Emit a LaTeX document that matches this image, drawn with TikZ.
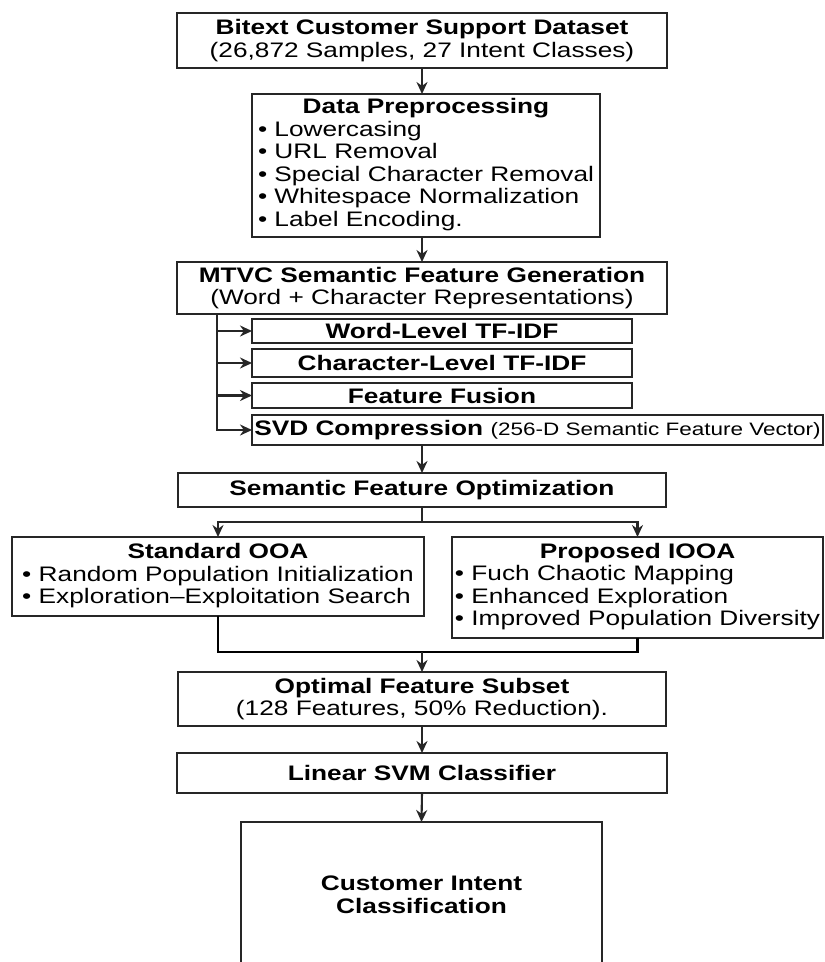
\documentclass[tikz,border=0pt]{standalone}
\usepackage{fontspec}
\newfontfamily\flowfont{Liberation Sans}[FakeStretch=1.25]
\usetikzlibrary{arrows.meta}

\begin{document}
\begin{tikzpicture} [x=1pt, y=-1pt, line width=2.1pt, >={Stealth[length=12pt, width=11pt]},
 box/.style={draw=black!85, rectangle, inner sep=0pt, outer sep=0pt, align=center,
  font=\flowfont\fontsize{21}{22.5}\selectfont},
 link/.style={->, draw=black!85}]
\clip (0,0) rectangle (825,962);
\node[box, minimum width=490pt, minimum height=55pt] (data) at (422,40.5)
 {\textbf{Bitext Customer Support Dataset}\\(26,872 Samples, 27 Intent Classes)};
\node[box, minimum width=348pt, minimum height=143pt] (prep) at (426,165.5)
 {\begin{tabular}{@{}l@{}}\multicolumn{1}{@{}c@{}}{\textbf{Data Preprocessing}}\\
 • Lowercasing\\ • URL Removal\\ • Special Character Removal\\
 • Whitespace Normalization\\ • Label Encoding.\end{tabular}};
\node[box, minimum width=490pt, minimum height=52pt] (mtvc) at (422,288)
 {\textbf{MTVC Semantic Feature Generation}\\(Word + Character Representations)};
\node[box, minimum width=380pt, minimum height=24pt] (word) at (442,331) {\textbf{Word-Level TF-IDF}};
\node[box, minimum width=380pt, minimum height=28pt] (char) at (442,363) {\textbf{Character-Level TF-IDF}};
\node[box, minimum width=380pt, minimum height=25pt] (fusion) at (442,395.5) {\textbf{Feature Fusion}};
\node[box, minimum width=571pt, minimum height=30pt] (svd) at (537.5,430)
 {\textbf{SVD Compression} {\fontsize{18}{20}\selectfont(256-D Semantic Feature Vector)}};
\node[box, minimum width=488pt, minimum height=34pt] (sfo) at (422,490) {\textbf{Semantic Feature Optimization}};
\node[box, minimum width=412pt, minimum height=79pt] (std) at (218,576.5)
 {\begin{tabular}{@{}l@{}}\multicolumn{1}{@{}c@{}}{\textbf{Standard OOA}}\\
 • Random Population Initialization\\ • Exploration–Exploitation Search\end{tabular}};
\node[box, minimum width=371pt, minimum height=101pt] (prop) at (637.5,587.5)
 {\begin{tabular}{@{}l@{}}\multicolumn{1}{@{}c@{}}{\textbf{Proposed IOOA}}\\
 • Fuch Chaotic Mapping\\ • Enhanced Exploration\\ • Improved Population Diversity\end{tabular}};
\node[box, minimum width=488pt, minimum height=54pt] (opt) at (422,699)
 {\textbf{Optimal Feature Subset}\\(128 Features, 50\% Reduction).};
\node[box, minimum width=490pt, minimum height=40pt] (svm) at (422,773) {\textbf{Linear SVM Classifier}};
\node[box, minimum width=361pt, minimum height=146pt] (intent) at (421.5,895)
 {\textbf{Customer Intent}\\\textbf{Classification}};
\draw[link] (data.south) -- (data.south |- prep.north);
\draw[link] (mtvc.north |- prep.south) -- (mtvc.north);
\coordinate (tap) at (217,314);
\draw[link] (tap) |- (svd.west);
\foreach \n in {word,char,fusion} {
 \draw[link] (tap |- \n.west) -- (\n.west);
}
\draw[link] (sfo.north |- svd.south) -- (sfo.north);
\path (sfo.south) ++(0,15) coordinate (fork);
\draw[link] (sfo.south) -- (fork) -| (std.north);
\draw[link] (fork) -| (prop.north);
\path (opt.north) ++(0,-20) coordinate (merge);
\draw (std.south) |- (merge) -| (prop.south);
\draw[link] (merge) -- (opt.north);
\draw[link] (opt.south) -- (svm.north);
\draw[link] (svm.south) -- (intent.north);
\end{tikzpicture}
\end{document}
